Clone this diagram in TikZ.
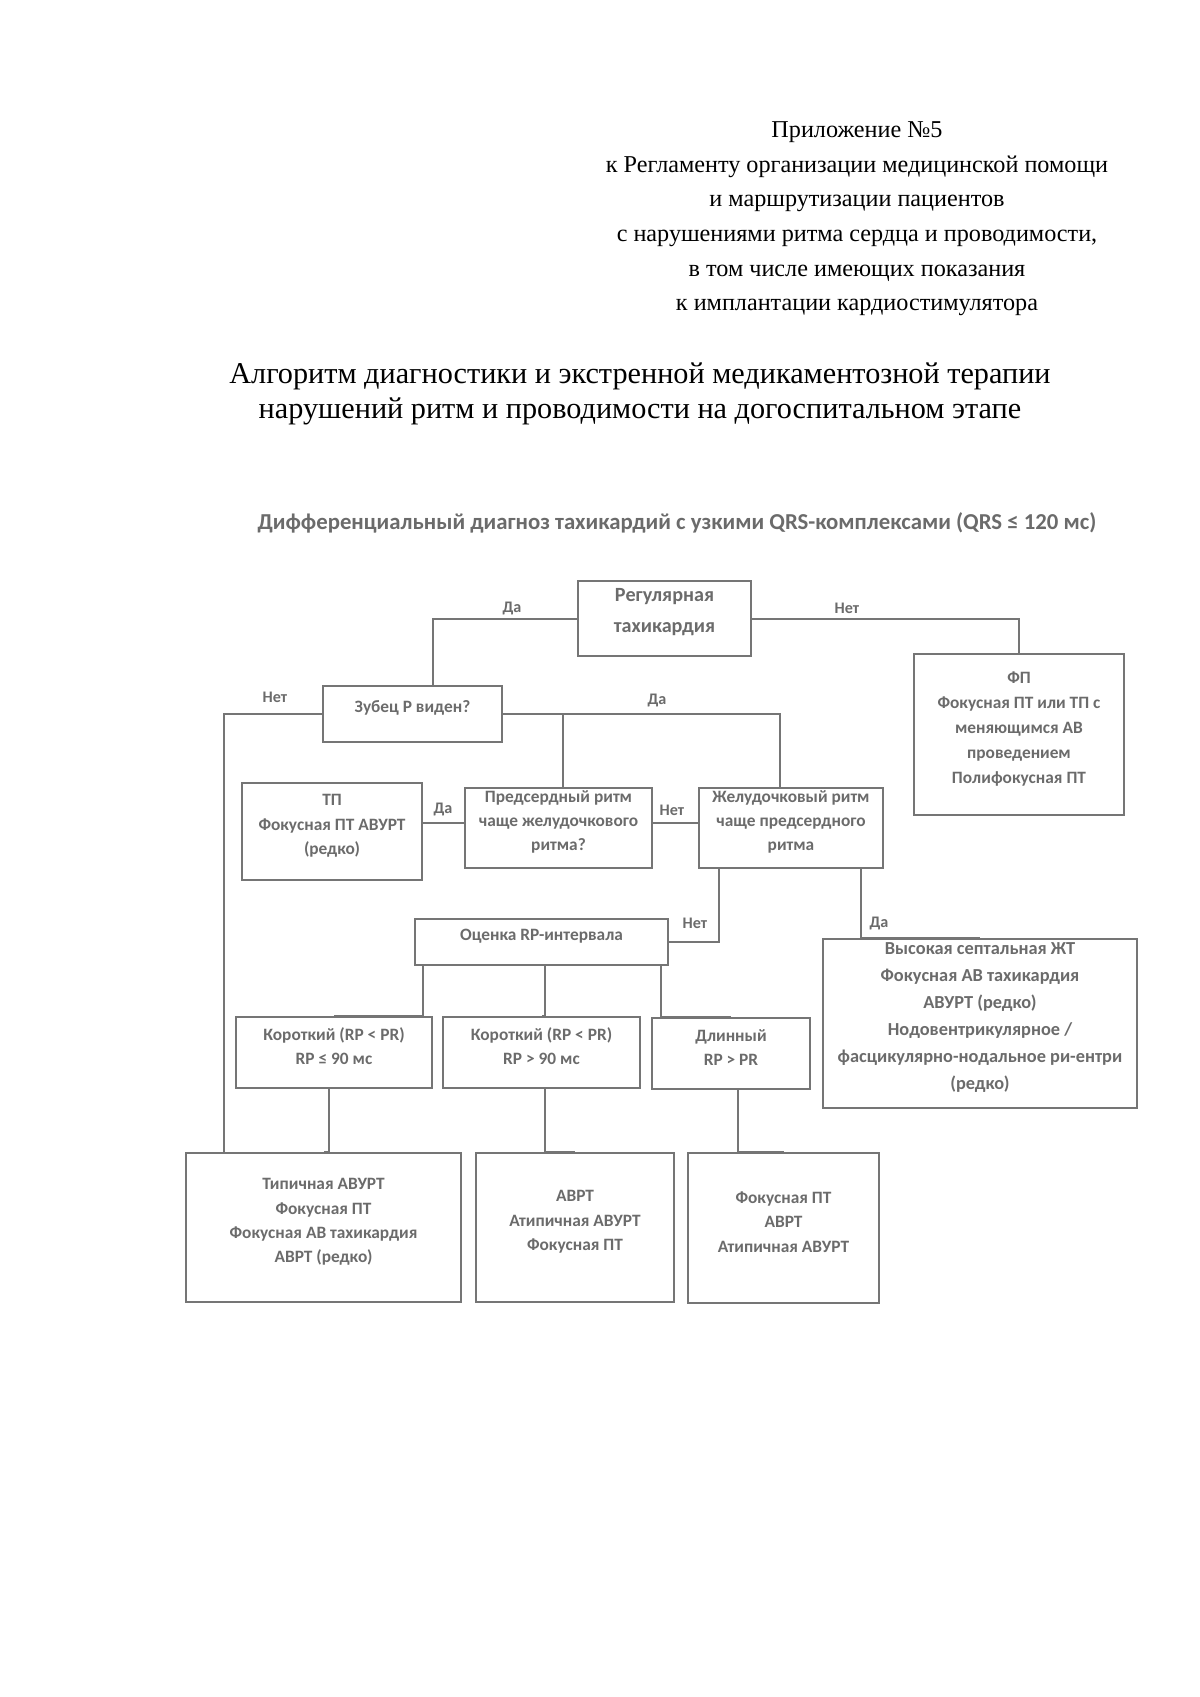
\documentclass[tikz,border=0pt]{standalone}
\usepackage{fontspec}
\setmainfont{Liberation Serif}
\newfontfamily\boxfont{Carlito}
\usepackage{tikz}
\usetikzlibrary{fit}

\definecolor{linegray}{gray}{0.46}
\definecolor{textgray}{gray}{0.42}

\begin{document}
\begin{tikzpicture}[
x = 0.4961pt, y = -0.4961pt,
box/.style = {draw=linegray, line width=1.3pt, inner sep=0pt, align=center,
              text=textgray, font=\boxfont\bfseries\fontsize{8.6}{12}\selectfont},
yn/.style = {text=textgray, font=\boxfont\bfseries\fontsize{8}{10}\selectfont},
link/.style = {draw=linegray, line width=1pt},
                        ]
\useasboundingbox (0,0) rectangle (1200,1697);

% heading
\node (app) [align=center, font=\fontsize{12}{17.2}\selectfont] at (857,219)
  {Приложение №5\\
   к Регламенту организации медицинской помощи\\
   и маршрутизации пациентов\\
   с нарушениями ритма сердца и проводимости,\\
   в том числе имеющих показания\\
   к имплантации кардиостимулятора};
\node (title) [align=center, font=\fontsize{15}{17.4}\selectfont] at (640,394)
  {Алгоритм диагностики и экстренной медикаментозной терапии\\
   нарушений ритм и проводимости на догоспитальном этапе};
\node (sub) [text=textgray, font=\boxfont\bfseries\fontsize{11.3}{14}\selectfont] at (677,523)
  {Дифференциальный диагноз тахикардий с узкими QRS-комплексами (QRS ≤ 120 мс)};

% boxes
\node (reg)  [box, fit={(578,581) (751,656)}, font=\boxfont\bfseries\fontsize{10}{15}\selectfont] {Регулярная\\тахикардия};
\node (fp)   [box, fit={(914,654) (1124,815)}, font=\boxfont\bfseries\fontsize{8.6}{12.4}\selectfont] {ФП\\Фокусная ПТ или ТП с\\меняющимся АВ\\проведением\\Полифокусная ПТ};
\node (zub)  [box, fit={(323,686) (502,742)}] {Зубец P виден?};
\node (tp)   [box, fit={(242,783) (422,880)}] {ТП\\Фокусная ПТ АВУРТ\\(редко)};
\node (pred) [box, fit={(465,788) (652,868)}] {Предсердный ритм\\чаще желудочкового\\ритма?};
\node (zhel) [box, fit={(699,788) (883,868)}] {Желудочковый ритм\\чаще предсердного\\ритма};
\node (ots)  [box, fit={(415,919) (668,965)}] {Оценка RP-интервала};
\node (vys)  [box, fit={(823,939) (1137,1108)}, font=\boxfont\bfseries\fontsize{9.1}{13.4}\selectfont]
  {Высокая септальная ЖТ\\Фокусная АВ тахикардия\\АВУРТ (редко)\\Нодовентрикулярное /\\фасцикулярно-нодальное ри-ентри\\(редко)};
\node (kor1) [box, fit={(236,1017) (432,1088)}] {Короткий (RP < PR)\\RP ≤ 90 мс};
\node (kor2) [box, fit={(443,1017) (640,1088)}] {Короткий (RP < PR)\\RP > 90 мс};
\node (dlin) [box, fit={(652,1018) (810,1089)}] {Длинный\\RP > PR};
\node (b1)   [box, fit={(186,1153) (461,1302)}] {Типичная АВУРТ\\Фокусная ПТ\\Фокусная АВ тахикардия\\АВРТ (редко)};
\node (b2)   [box, fit={(476,1153) (674,1302)}] {АВРТ\\Атипичная АВУРТ\\Фокусная ПТ};
\node (b3)   [box, fit={(688,1153) (879,1303)}] {Фокусная ПТ\\АВРТ\\Атипичная АВУРТ};

% connectors
\draw [link] (reg.west) -| ([xshift=10pt]zub.north);
\draw [link] (reg.east) -| (fp.north);
\draw [link] (zub.east) -| ([xshift=-5.5pt]zhel.north);
\draw [link] ([xshift=2.2pt]pred.north) |- (zub.east);
\draw [link] (zub.west) -| ([xshift=19.3pt]b1.north west);
\draw [link] ([yshift=2.5pt]tp.east |- pred.west) -- ([yshift=2.5pt]pred.west);
\draw [link] ([yshift=2.5pt]pred.east) -- ([yshift=2.5pt]zhel.west);
\draw [link] ([xshift=-35.7pt]zhel.south) |- (ots.east);
\draw [link] ([xshift=34.7pt]zhel.south) |- (vys.north);
\draw [link] ([xshift=-58.8pt]ots.south) |- (kor1.north);
\draw [link] ([xshift=1.7pt]ots.south) |- (kor2.north);
\draw [link] ([xshift=59.3pt]ots.south) |- (dlin.north);
\draw [link] ([xshift=-2.5pt]kor1.south) |- (b1.north);
\draw [link] ([xshift=1.7pt]kor2.south) |- (b2.north);
\draw [link] ([xshift=3.5pt]dlin.south) |- (b3.north);

% yes / no
\node (y1) [yn] at (512,608) {Да};
\node (n1) [yn] at (847,608) {Нет};
\node (n2) [yn] at (275,697) {Нет};
\node (y2) [yn] at (657,700) {Да};
\node (y3) [yn] at (443,809) {Да};
\node (n3) [yn] at (672,810) {Нет};
\node (n4) [yn] at (695,923) {Нет};
\node (y4) [yn] at (879,923) {Да};
\end{tikzpicture}
\end{document}
